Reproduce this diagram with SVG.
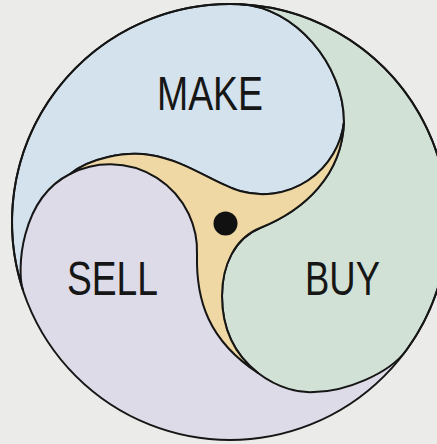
<svg xmlns="http://www.w3.org/2000/svg" width="437" height="444" viewBox="0 0 437 444">
  <style>
    .edge { stroke: #161616; stroke-width: 2; stroke-linejoin: round; }
    .label { font-family: "Liberation Sans Narrow", "Liberation Sans", Arial, sans-serif; font-size: 49px; fill: #161616; }
  </style>
  <rect x="0" y="0" width="437" height="444" fill="#ebebe9"/>
  <g id="sell">
    <circle cx="230" cy="222" r="218" fill="#dedbe8"/>
  </g>
  <g id="make">
    <path class="edge" fill="#d4e2ed" d="M240,4.23 A218,218 0 0 0 22.9,290 C16.7,271 20,199 70,174 C90,158 125,151 150,155 C185,160 215,184 240,191 A82,82 0 0 0 344,122 C344,65 295,6.7 240,4.23 Z"/>
    <text class="label" x="157" y="110" textLength="106" lengthAdjust="spacingAndGlyphs">MAKE</text>
  </g>
  <g id="buy">
    <path class="edge" fill="#d1e1d5" d="M240,4.23 A218,218 0 0 1 406.5,350 C388.9,374.3 344,392 314,392 C300,393 279,389 258,373 C235,355 222,330 222,296 C222,265 235,238 260,228 C305,210 342,175 344,122 C344,65 295,6.7 240,4.23 Z"/>
    <text class="label" x="305" y="295" textLength="75" lengthAdjust="spacingAndGlyphs">BUY</text>
  </g>
  <g id="hub">
    <path class="edge" fill="#efd8a3" d="M70,174 C90,158 125,151 150,155 C185,160 215,184 240,191 A82,82 0 0 0 344,122 C342,175 305,210 260,228 C235,238 222,265 222,296 C222,330 235,355 258,373 C208,340 196,300 197,255 A87,87 0 0 0 70,174 Z"/>
    <circle cx="225.5" cy="223.5" r="12" fill="#111"/>
  </g>
  <g id="sell-label">
    <text class="label" x="67" y="295" textLength="91" lengthAdjust="spacingAndGlyphs">SELL</text>
  </g>
  <g id="outline">
    <circle cx="230" cy="222" r="218" fill="none" class="edge"/>
  </g>
</svg>
